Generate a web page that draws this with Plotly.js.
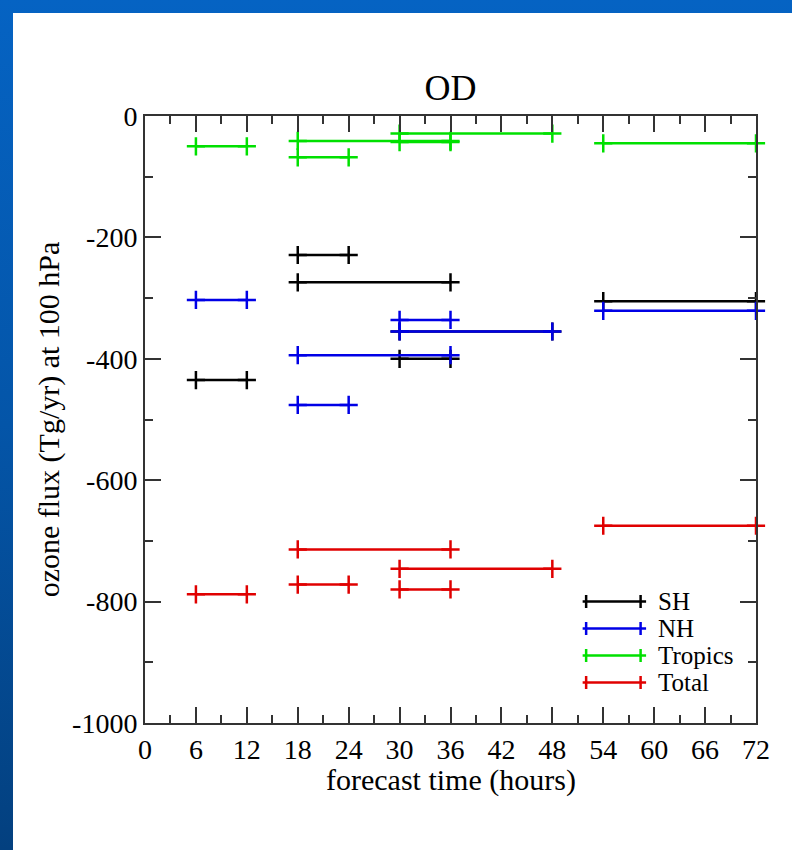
<!DOCTYPE html>
<html>
<head>
<meta charset="utf-8">
<script src="https://cdn.plot.ly/plotly-3.0.1.min.js"></script>
<style>
  html, body { margin:0; padding:0; width:792px; height:850px; overflow:hidden;
    background: linear-gradient(to bottom, #0563c3 0%, #0455a8 50%, #03407f 100%); }
  #chart { position:absolute; left:13px; top:13px; width:779px; height:837px; background:#fff; }
</style>
</head>
<body>
<div id="chart"></div>
<script>
// Forecast-time intervals (hours): start and end of each segment
const segStart = [6, 18, 18, 30, 30, 54];
const segEnd   = [12, 24, 36, 36, 48, 72];

// Ozone flux (Tg/yr) at 100 hPa for each interval
const SH      = [-435, -229, -274, -400, -355, -305];
const NH      = [-303, -476, -394, -336, -355, -321];
const Tropics = [-50, -68, -41, -43, -29, -45];
const Total   = [-788, -772, -714, -780, -746, -675];

const seriesNames  = ['SH', 'NH', 'Tropics', 'Total'];
const seriesValues = [SH, NH, Tropics, Total];
const seriesColors = ['#000000', '#0000e6', '#00e000', '#e00000'];

const xTicks = [0, 6, 12, 18, 24, 30, 36, 42, 48, 54, 60, 66, 72];
const yTicks = [0, -200, -400, -600, -800, -1000];

const FONT = 'Liberation Serif, Times New Roman, serif';

const traces = seriesValues.map((vals, i) => {
  const xs = [], ys = [];
  vals.forEach((v, k) => {
    xs.push(segStart[k], segEnd[k], null);
    ys.push(v, v, null);
  });
  return {
    type: 'scatter', mode: 'lines+markers', name: seriesNames[i],
    x: xs, y: ys, connectgaps: false, showlegend: false,
    line: { color: seriesColors[i], width: 2.5 },
    marker: { symbol: 'cross-thin', size: 13, color: seriesColors[i],
              line: { color: seriesColors[i], width: 2.5 } },
    cliponaxis: false
  };
});

// Plot-area geometry (pixels) used to place the hand-drawn legend
const PW = 611.5, PH = 607;
const legLeft = 438, legRight = 501.5, capL = 441.5, capR = 496, textX = 511;
const legTop = 121.5, legStep = 27;
const shapes = [], annotations = [];
seriesNames.forEach((nm, i) => {
  const yPix = legTop - i * legStep;          // pixels above plot bottom
  const yp = yPix / PH;
  const c = seriesColors[i];
  shapes.push({ type: 'line', xref: 'paper', yref: 'paper',
    x0: legLeft / PW, x1: legRight / PW, y0: yp, y1: yp, line: { color: c, width: 2.5 } });
  [capL, capR].forEach(cx => shapes.push({ type: 'line', xref: 'paper', yref: 'paper',
    x0: cx / PW, x1: cx / PW, y0: yp - 6.5 / PH, y1: yp + 6.5 / PH, line: { color: c, width: 2.5 } }));
  annotations.push({ xref: 'paper', yref: 'paper', x: textX / PW, y: yp,
    xanchor: 'left', yanchor: 'middle', showarrow: false, text: nm,
    font: { family: FONT, size: 25, color: '#000' } });
});
annotations.push({ xref: 'paper', yref: 'paper', x: 0.5, y: 0, xanchor: 'center', yanchor: 'top',
  yshift: -38, showarrow: false, text: 'forecast time (hours)',
  font: { family: FONT, size: 30, color: '#000' } });

const axisCommon = {
  showgrid: false, zeroline: false, showline: true, mirror: 'allticks',
  linecolor: '#333', linewidth: 2, ticks: 'inside', ticklen: 16, tickwidth: 2,
  tickcolor: '#333', tickfont: { family: FONT, size: 28, color: '#000' }
};

const layout = {
  width: 779, height: 837,
  paper_bgcolor: '#ffffff', plot_bgcolor: '#ffffff',
  margin: { l: 132, r: 35.5, t: 103, b: 127, pad: 0 },
  font: { family: FONT, color: '#000' },
  title: { text: 'OD', font: { family: FONT, size: 36, color: '#000' },
           xref: 'paper', x: 0.5, xanchor: 'center',
           yref: 'paper', y: 1, yanchor: 'bottom', pad: { b: 16 } },
  xaxis: Object.assign({}, axisCommon, {
    range: [0, 72], tickmode: 'array', tickvals: xTicks, ticktext: xTicks.map(String),
    minor: { dtick: 3, ticklen: 8, tickwidth: 2, tickcolor: '#333', ticks: 'inside' },
    automargin: false
  }),
  yaxis: Object.assign({}, axisCommon, {
    range: [-1000, 0], tickmode: 'array', tickvals: yTicks, ticktext: yTicks.map(String),
    minor: { dtick: 100, ticklen: 8, tickwidth: 2, tickcolor: '#333', ticks: 'inside' },
    automargin: false,
    title: { text: 'ozone flux (Tg/yr) at 100 hPa', font: { family: FONT, size: 30, color: '#000' }, standoff: 4 }
  }),
  showlegend: false,
  shapes: shapes,
  annotations: annotations
};

Plotly.newPlot('chart', traces, layout, { displayModeBar: false, staticPlot: true });
</script>
</body>
</html>
